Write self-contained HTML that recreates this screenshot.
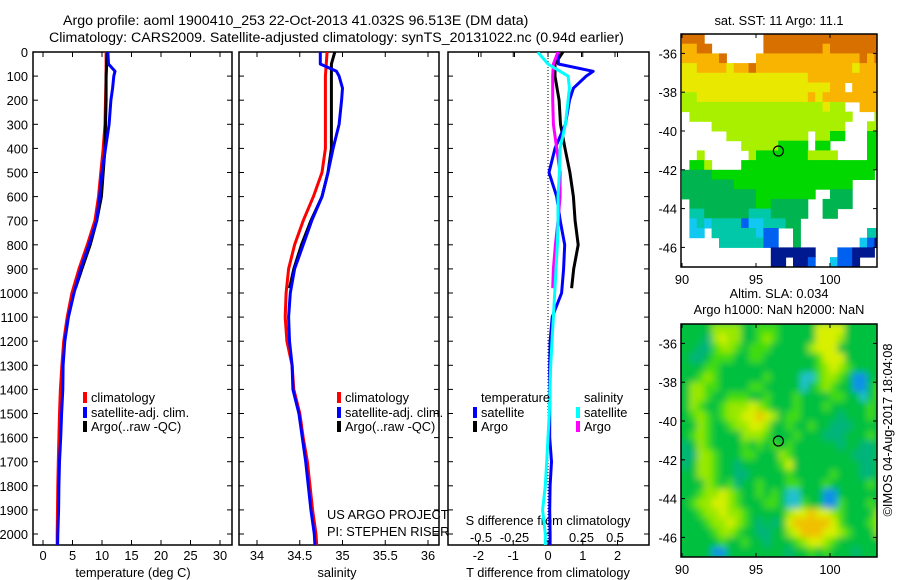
<!DOCTYPE html>
<html><head><meta charset="utf-8"><style>
html,body{margin:0;padding:0;background:#fff;}
svg{display:block;font-family:"Liberation Sans",sans-serif;}
text{font-size:12.8px;fill:#000;}
</style></head>
<body>
<svg id="fig" width="900" height="580" viewBox="0 0 900 580" xmlns="http://www.w3.org/2000/svg">
<defs>
<clipPath id="cp1"><rect x="33" y="52" width="199" height="493"/></clipPath>
<clipPath id="cp2"><rect x="239" y="52" width="200" height="493"/></clipPath>
<clipPath id="cp3"><rect x="448" y="52" width="201" height="493"/></clipPath>
<clipPath id="cpm1"><rect x="681" y="34" width="196" height="233"/></clipPath>
<clipPath id="cpm2"><rect x="681" y="324" width="196" height="233"/></clipPath>
<filter id="blur" x="-5%" y="-5%" width="110%" height="110%"><feGaussianBlur stdDeviation="3.5"/></filter>
</defs>
<text x="63" y="25" style="font-size:14.2px">Argo profile: aoml 1900410_253 22-Oct-2013 41.032S 96.513E (DM data)</text>
<text x="49" y="42" style="font-size:14.2px">Climatology: CARS2009. Satellite-adjusted climatology: synTS_20131022.nc (0.94d earlier)</text>
<g id="g1"></g>
<g id="g2"></g>
<g id="g3"></g>
<g id="gm1"></g>
<g id="gm2"></g>
</svg>
<script>
// ---------- profile data ----------
const climDepth=[0,100,200,300,400,500,600,700,800,900,1000,1100,1200,1300,1400,1500,1600,1700,1800,1900,2000,2060];
const tempClim=[10.7,10.7,10.6,10.5,10.2,9.8,9.4,8.8,7.5,6.1,4.9,4.1,3.5,3.2,2.95,2.8,2.7,2.6,2.5,2.45,2.4,2.4];
const satDepth=[0,50,80,100,150,200,300,400,500,600,700,800,900,1000,1100,1200,1300,1400,1500,1600,1700,1800,1900,2000,2060];
const tempSat=[11.0,11.1,12.2,12.0,11.8,11.5,11.2,10.6,10.0,9.6,9.1,7.8,6.4,5.25,4.3,3.7,3.4,3.35,3.15,3.0,2.8,2.7,2.65,2.5,2.45];
const argoDepth=[0,50,100,200,300,400,500,600,700,800,900,980];
const tempArgo=[10.9,10.8,10.7,10.7,10.6,10.5,10.2,9.9,9.1,8.0,6.6,5.5];
const salClim=[34.82,34.80,34.80,34.80,34.80,34.76,34.66,34.54,34.44,34.37,34.34,34.33,34.35,34.41,34.43,34.50,34.54,34.59,34.62,34.65,34.69,34.70];
const salSat=[34.74,34.74,34.93,34.96,35.0,34.99,34.96,34.89,34.83,34.76,34.64,34.54,34.44,34.39,34.37,34.38,34.41,34.42,34.49,34.53,34.57,34.60,34.63,34.67,34.68];
const salArgo=[34.91,34.87,34.87,34.87,34.87,34.87,34.83,34.76,34.63,34.52,34.43,34.38];
// differences
const dTsat=[0.29,0.3,1.3,1.1,0.73,0.62,0.5,0.2,0.03,0.25,0.35,0.48,0.45,0.39,0.12,0.06,0.05,0.05,0.05,0.05,0.1,0.06,0.05,0.06,0.06];
const dTargo=[0.43,0.2,0.2,0.32,0.36,0.49,0.63,0.73,0.78,0.87,0.74,0.68];
const dSargo=[0.075,0.04,0.035,0.035,0.04,0.065,0.09,0.09,0.075,0.055,0.04,0.035];
const dSsat=[-0.077,0,0.09,0.15,0.16,0.15,0.13,0.09,0.085,0.075,0.075,0.07,0.06,0.05,0.04,0.03,0.02,0.015,0.01,0.0,-0.01,-0.02,-0.04,-0.02,-0.02];
const depthTicks=[0,100,200,300,400,500,600,700,800,900,1000,1100,1200,1300,1400,1500,1600,1700,1800,1900,2000];
const tempTicks=[0,5,10,15,20,25,30];
const salTicks=[34,34.5,35,35.5,36];
const salTickLabels=["34","34.5","35","35.5","36"];
const tdTicks=[-2,-1,0,1,2];
const sdTicks=[-0.5,-0.25,0,0.25,0.5];
const sdTickLabels=["-0.5","-0.25","0","0.25","0.5"];
// ---------- map data (0.5 deg cells, lat -35 -> -47, lon 90 -> 103.5) ----------
const sstRows=[
"AAA00000000AAAAAAAAAAAAAAAA",
"99AA0000000AAAAAAAA9AAAAAAA",
"99999A000099999999999999A9A",
"889999899A99999999999998999",
"888888888888888889999999999",
"888888888888888888889909999",
"778888888888888889899999999",
"777777777777777777787700999",
"077777777777777777777770007",
"000077777777777777777700077",
"000000777777777770776600066",
"000000007777766660660000066",
"007000000766666667777000066",
"066700006666666666666666666",
"555566666666666666666666660",
"555555566666666666666660000",
"555555555566666666005550000",
"055555555566555550055550000",
"044555555444555550055000000",
"034344442334445500000000000",
"033044444432200500000000044",
"000004444442200500000000321",
"000000000000111111000221110",
"000000000000110112003221000"];
const slaRows=[
"ggggyyyyggGGGgggggYYYYggggg",
"gggtyYyyggGyGgggggYYYyggggg",
"ggttGyyGgGGGgggggyYYYgggggg",
"gttgGGGggGGgggggggGYYYggggg",
"gggGGgggggggggggggGyYyGgggg",
"ggGyGggggggGggggccGyyGgbbgg",
"gyyGGggggGGgggggcgGyGggbbgG",
"gyyGggGGGggGgggGggggGGggcgG",
"gyGggGyyyYyGgggGgggGgggggGg",
"gGyGgGyyYYoYygGGgggggtgggGg",
"ggyGggGyyYYyggGggGggtttgggg",
"gGyGggggyyyGgggGgggtttgggGg",
"tgyGggggGgGgGgGggggggtggttg",
"ttyyGgggGGgggyGggggggggtttg",
"tgyyGggtgggggGYgggggggggttg",
"ggyyGggttgggggGgggggGgggttg",
"gggyGgGtggGgggGGgggGgggggGg",
"ggGyyYyGggGgGgccgggbbgggggg",
"gGyyYYyGgggGGgccGggbbGgggGg",
"ggGyyYyyGgggggyYYoYYyGggggy",
"gggGyyYyGgtgtgYoooooYGgggGy",
"ggggGyyGggttggyYoooYYyGgggy",
"gggggGggGggtgggGyYYyGgggggg",
"ggggbbggggggggtggGgGgggtggg"];
const latTicks=[-36,-38,-40,-42,-44,-46];
const lonTicks=[90,95,100];
const argoLon=96.513, argoLat=-41.032;

const NS="http://www.w3.org/2000/svg";
function mk(tag,attrs,parent){const e=document.createElementNS(NS,tag);for(const k in attrs)e.setAttribute(k,attrs[k]);parent.appendChild(e);return e;}
const TOP=52,BOT=545;
const yD=d=>TOP+d*0.241;
const xT=t=>43+t*5.9;
const xS=s=>257+(s-34)*85.5;
const xTd=v=>548+v*34.75;
const xSd=v=>548+v*134;

function frame(g,x0,x1,name){
  const r=mk('rect',{x:x0,y:TOP,width:x1-x0,height:BOT-TOP,fill:'none',stroke:'#000','stroke-width':1.5},g);
  
  
}
function line(g,xs,ds,xf,color,clip,name,w){
  const pts=xs.map((v,i)=>xf(v).toFixed(1)+','+yD(ds[i]).toFixed(1)).join(' ');
  const p=mk('polyline',{points:pts,fill:'none',stroke:color,'stroke-width':w||3,'clip-path':'url(#'+clip+')','stroke-linejoin':'round'},g);
  
  
}
function xticks(g,vals,labels,xf,x0,x1,name){
  vals.forEach((v,i)=>{const x=xf(v);if(x<x0||x>x1)return;
    mk('line',{x1:x,x2:x,y1:BOT,y2:BOT-5,stroke:'#000'},g);
    mk('line',{x1:x,x2:x,y1:TOP,y2:TOP+5,stroke:'#000'},g);
    const t=mk('text',{x:x,y:BOT+15,'text-anchor':'middle'},g);t.textContent=labels[i];
    
    
  });
}
function yticks(g,x0,x1){
  depthTicks.forEach(d=>{const y=yD(d);
    mk('line',{x1:x0,x2:x0+5,y1:y,y2:y,stroke:'#000'},g);
    mk('line',{x1:x1,x2:x1-5,y1:y,y2:y,stroke:'#000'},g);});
}
function txt(g,x,y,s,name,anchor,size){const t=mk('text',{x:x,y:y,'text-anchor':anchor||'start'},g);if(size)t.style.fontSize=size;t.textContent=s;
  
  
  return t;}
function swatch(g,x,y,color,name){const r=mk('rect',{x:x,y:y-10,width:4,height:11,fill:color},g);
  
  }

// ----- panel 1 -----
const g1=document.getElementById('g1');
frame(g1,33,232,'temperature-frame');
yticks(g1,33,232);
depthTicks.forEach(d=>{txt(g1,28,yD(d)+5,String(d),'depth-tick-label','end');});
xticks(g1,tempTicks,tempTicks.map(String),xT,33,232,'temperature-tick-label');
txt(g1,133,577,'temperature (deg C)','x-axis-title-temperature','middle');
line(g1,tempClim,climDepth,xT,'#ff0000','cp1','temperature-climatology-line');
line(g1,tempArgo,argoDepth,xT,'#000000','cp1','temperature-argo-line');
line(g1,tempSat,satDepth,xT,'#0000ff','cp1','temperature-satellite-line');
swatch(g1,83,402,'#ff0000','legend-swatch-climatology');txt(g1,91,402,'climatology','legend-climatology');
swatch(g1,83,417,'#0000ff','legend-swatch-satellite');txt(g1,91,417,'satellite-adj. clim.','legend-satellite');
swatch(g1,83,431,'#000000','legend-swatch-argo');txt(g1,91,431,'Argo(..raw -QC)','legend-argo');

// ----- panel 2 -----
const g2=document.getElementById('g2');
frame(g2,239,439,'salinity-frame');
yticks(g2,239,439);
xticks(g2,salTicks,salTickLabels,xS,239,439,'salinity-tick-label');
txt(g2,337,577,'salinity','x-axis-title-salinity','middle');
line(g2,salClim,climDepth,xS,'#ff0000','cp2','salinity-climatology-line');
line(g2,salArgo,argoDepth,xS,'#000000','cp2','salinity-argo-line');
line(g2,salSat,satDepth,xS,'#0000ff','cp2','salinity-satellite-line');
swatch(g2,337,402,'#ff0000','legend-swatch-climatology');txt(g2,345,402,'climatology','legend-climatology');
swatch(g2,337,417,'#0000ff','legend-swatch-satellite');txt(g2,345,417,'satellite-adj. clim.','legend-satellite');
swatch(g2,337,431,'#000000','legend-swatch-argo');txt(g2,345,431,'Argo(..raw -QC)','legend-argo');
txt(g2,327,519,'US ARGO PROJECT','project-label');
txt(g2,327,536,'PI: STEPHEN RISER','pi-label');

// ----- panel 3 -----
const g3=document.getElementById('g3');
frame(g3,448,649,'difference-frame');
yticks(g3,448,649);
xticks(g3,tdTicks,tdTicks.map(String),xTd,448,649,'t-difference-tick-label');
sdTicks.forEach((v,i)=>{txt(g3,xSd(v),542,sdTickLabels[i],'s-difference-tick-label','middle');
  mk('line',{x1:xSd(v),x2:xSd(v),y1:TOP,y2:TOP+5,stroke:'#000'},g3);});
txt(g3,548,525,'S difference from climatology','s-difference-axis-title','middle');
txt(g3,548,577,'T difference from climatology','t-difference-axis-title','middle');
const zl=mk('line',{x1:548,x2:548,y1:TOP,y2:BOT,stroke:'#000','stroke-dasharray':'1,2'},g3);


line(g3,dTargo,argoDepth,xTd,'#000000','cp3','t-diff-argo-line');
line(g3,dTsat,satDepth,xTd,'#0000ff','cp3','t-diff-satellite-line');
line(g3,dSargo,argoDepth,xSd,'#ff00ff','cp3','s-diff-argo-line');
line(g3,dSsat,satDepth,xSd,'#00ffff','cp3','s-diff-satellite-line');
txt(g3,481,402,'temperature','legend-temperature-heading');
txt(g3,584,402,'salinity','legend-salinity-heading');
swatch(g3,473,417,'#0000ff','legend-swatch-t-satellite');txt(g3,481,417,'satellite','legend-t-satellite');
swatch(g3,473,431,'#000000','legend-swatch-t-argo');txt(g3,481,431,'Argo','legend-t-argo');
swatch(g3,576,417,'#00ffff','legend-swatch-s-satellite');txt(g3,584,417,'satellite','legend-s-satellite');
swatch(g3,576,431,'#ff00ff','legend-swatch-s-argo');txt(g3,584,431,'Argo','legend-s-argo');

// ----- maps -----
const sstCol={'1':'#001890','2':'#0060f0','3':'#10c8f0','4':'#00c8a8','5':'#00b450','6':'#00d800','7':'#a8f000','8':'#e8e800','9':'#f8b400','A':'#d87000'};
const slaCol={'g':'#00c040','G':'#40dc10','t':'#00b47c','c':'#20c0d0','b':'#1090e8','y':'#98e800','Y':'#d8f000','o':'#f0c000'};
function drawMap(gid,top,rows,cols,clip,blur,name,title1,title2){
  const g=document.getElementById(gid);
  const xL=lon=>682+(lon-90)*14.8;
  const yL=lat=>top+(-35-lat)*19.4;
  const cg=mk('g',{'clip-path':'url(#'+clip+')'},g);
  const inner=mk('g',blur?{filter:'url(#blur)'}:{},cg);
  if(blur) mk('rect',{x:670,y:top-10,width:220,height:250,fill:cols['g']},inner);
  rows.forEach((row,r)=>{[...row].forEach((ch,c)=>{
    if(!cols[ch])return;
    const x=xL(90+c*0.5),y=yL(-35-r*0.5);
    const rc=mk('rect',{x:x.toFixed(1),y:y.toFixed(1),width:7.9,height:10.2,fill:cols[ch]},inner);
    
    
  });});
  const fr=mk('rect',{x:681,y:top,width:196,height:233,fill:'none',stroke:'#000','stroke-width':1.5},g);
  
  
  latTicks.forEach(l=>{const y=yL(l);mk('line',{x1:681,x2:685,y1:y,y2:y,stroke:'#000'},g);mk('line',{x1:877,x2:873,y1:y,y2:y,stroke:'#000'},g);
    txt(g,677,y+5,String(l),name+'-lat-label','end');});
  lonTicks.forEach(l=>{const x=xL(l);mk('line',{x1:x,x2:x,y1:top,y2:top+4,stroke:'#000'},g);mk('line',{x1:x,x2:x,y1:top+233,y2:top+229,stroke:'#000'},g);
    txt(g,x,top+250,String(l),name+'-lon-label','middle');});
  const ci=mk('circle',{cx:xL(argoLon),cy:yL(argoLat),r:5,fill:'none',stroke:'#000','stroke-width':1.2},g);
  
  
  if(title2){txt(g,779,top-26,title1,name+'-title','middle');txt(g,779,top-10,title2,name+'-subtitle','middle');}
  else txt(g,779,top-9,title1,name+'-title','middle');
}
drawMap('gm1',34,sstRows,sstCol,'cpm1',false,'sst-map','sat. SST: 11 Argo: 11.1');
drawMap('gm2',324,slaRows,slaCol,'cpm2',true,'sla-map','Altim. SLA: 0.034','Argo h1000: NaN h2000: NaN');
const im=txt(document.getElementById('gm2'),0,0,'©IMOS 04-Aug-2017 18:04:08','imos-timestamp','middle');
im.setAttribute('transform','translate(892,430) rotate(-90)');
</script>
</body></html>
